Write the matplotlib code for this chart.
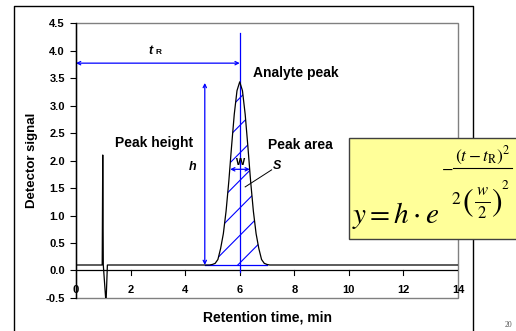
import matplotlib
matplotlib.use('Agg')
import matplotlib.pyplot as plt
from matplotlib.lines import Line2D
from matplotlib.patches import Rectangle

plt.rcParams['font.family'] = ['Liberation Sans', 'DejaVu Sans']
plt.rcParams['mathtext.fontset'] = 'stix'

# chromatogram (retention time in min, detector signal)
signal_t = [0.0, 0.96, 0.98, 1.00, 1.10, 1.15,
            4.8, 4.9, 5.0, 5.1, 5.2, 5.3, 5.4, 5.5, 5.6, 5.7, 5.8, 5.9, 6.0,
            6.1, 6.2, 6.3, 6.4, 6.5, 6.6, 6.7, 6.8, 6.9, 7.0, 7.1, 7.2, 14.0]
signal_y = [0.10, 0.10, 2.10, 0.10, -0.60, 0.10,
            0.10, 0.10, 0.11, 0.13, 0.20, 0.40, 0.67, 1.08, 1.62, 2.25, 2.84, 3.27, 3.43,
            3.27, 2.84, 2.25, 1.62, 1.08, 0.67, 0.40, 0.20, 0.13, 0.11, 0.10, 0.10, 0.10]
peak_start, peak_end = 6, 31   # slice of the analyte peak

t_r = 6.0
baseline = 0.1
peak_top = 3.43
h_pos = 4.72
w_left, w_right, w_level = 5.65, 6.37, 1.84
tr_level = 3.77

x_ticks = [0, 2, 4, 6, 8, 10, 12, 14]
y_ticks = [-0.5, 0.0, 0.5, 1.0, 1.5, 2.0, 2.5, 3.0, 3.5, 4.0, 4.5]

blue = '#0000ff'
grey = '#808080'

fig = plt.figure(figsize=(5.16, 3.31), dpi=100)
ax = fig.add_axes([0.1473, 0.0997, 0.7403, 0.8308])
ax.set_xlim(0, 14)
ax.set_ylim(-0.5, 4.5)

# frame: black left spine, grey box, black x axis at zero
for s in ['top', 'right', 'bottom']:
    ax.spines[s].set_visible(False)
ax.spines['left'].set_linewidth(1.0)
ax.add_patch(Rectangle((0, 0), 1, 1, transform=ax.transAxes, fill=False,
                       edgecolor=grey, lw=1.0, zorder=0.5, clip_on=False))
ax.spines['left'].set_zorder(3)
ax.axhline(0, color='black', lw=0.9, zorder=2)

ax.set_xticks(x_ticks)
ax.set_yticks(y_ticks)
ax.set_yticklabels(['%.1f' % v for v in y_ticks])
ax.tick_params(axis='y', direction='out', length=4, width=0.8, labelsize=8, pad=4)
ax.tick_params(axis='x', direction='out', length=0, labelsize=8, pad=-9)
for v in x_ticks[1:-1]:
    ax.plot([v, v], [0, -0.08], color='black', lw=0.8, zorder=2, clip_on=False)
for lab in ax.get_xticklabels() + ax.get_yticklabels():
    lab.set_fontweight('bold')

ax.set_xlabel('Retention time, min', fontsize=10, fontweight='bold')
ax.xaxis.set_label_coords(0.5, -0.045)
ax.set_ylabel('Detector signal', fontsize=9.5, fontweight='bold')
ax.yaxis.set_label_coords(-0.1, 0.5)

# signal trace
ax.plot(signal_t, signal_y, color='black', lw=0.9, zorder=4)

# hatched peak area
pk_t = signal_t[peak_start:peak_end + 1]
pk_y = signal_y[peak_start:peak_end + 1]
poly = ax.fill_between(pk_t, baseline, pk_y, facecolor='none', edgecolor='none')
clip = poly.get_paths()[0]
for k in range(8):
    c = 0.135 + 0.5 * k
    ln, = ax.plot([4.0, 8.0], [c - 1.0, c + 1.0], color=blue, lw=0.8, zorder=3)
    ln.set_clip_path(clip, transform=ax.transData)

# blue construction lines
ax.plot([t_r, t_r], [-0.03, 4.32], color=blue, lw=0.9, zorder=3)
ax.plot([h_pos, 7.0], [baseline, baseline], color=blue, lw=0.9, zorder=3)
arr = dict(arrowstyle='<->', color=blue, lw=0.9, mutation_scale=6, shrinkA=0, shrinkB=0)
ax.annotate('', xy=(0, tr_level), xytext=(t_r, tr_level), arrowprops=arr, zorder=3)
ax.annotate('', xy=(h_pos, baseline), xytext=(h_pos, peak_top - 0.02), arrowprops=arr, zorder=3)
ax.annotate('', xy=(w_left, w_level), xytext=(w_right, w_level), arrowprops=arr, zorder=3)

# labels
ax.text(2.66, 4.0, 't', fontsize=9, fontweight='bold', style='italic', ha='left', va='center')
ax.text(2.92, 3.96, 'R', fontsize=6, fontweight='bold', ha='left', va='center')
ax.text(6.48, 3.6, 'Analyte peak', fontsize=10, fontweight='bold', ha='left', va='center')
ax.text(1.42, 2.32, 'Peak height', fontsize=10, fontweight='bold', ha='left', va='center')
ax.text(4.15, 1.88, 'h', fontsize=9, fontweight='bold', style='italic', ha='left', va='center')
ax.text(7.02, 2.28, 'Peak area', fontsize=10, fontweight='bold', ha='left', va='center')
ax.text(7.22, 1.9, 'S', fontsize=9, fontweight='bold', style='italic', ha='left', va='center')
ax.text(6.0, 1.98, 'w', fontsize=8.5, fontweight='bold', ha='center', va='center')
ax.plot([7.17, 6.2], [1.83, 1.52], color='black', lw=0.7, zorder=4)

# outer slide frame
fig.add_artist(Line2D([0.0271, 0.0271, 0.9167, 0.9167], [0.0, 0.982, 0.982, 0.0],
                      transform=fig.transFigure, color='black', lw=1.0))

# formula box
fig.add_artist(Rectangle((0.676, 0.278), 0.34, 0.305, transform=fig.transFigure,
                         facecolor='#ffff99', edgecolor='#404040', lw=1.0, zorder=10))
fig.text(0.682, 0.325, r'$y = h\cdot e$', fontsize=21, ha='left', va='baseline', zorder=11)
# exponent, built from pieces so the nested fraction keeps its size
kw = dict(ha='center', va='center', zorder=11)
fig.text(0.866, 0.492, r'$-$', fontsize=12, **kw)
fig.text(0.936, 0.529, r'$(t-t_{\mathrm{R}})^2$', fontsize=12.5, **kw)
fig.add_artist(Line2D([0.878, 0.992], [0.492, 0.492], transform=fig.transFigure,
                      color='black', lw=0.8, zorder=11))
fig.text(0.884, 0.399, r'$2$', fontsize=12.5, **kw)
fig.text(0.907, 0.386, r'$($', fontsize=23, **kw)
fig.text(0.935, 0.425, r'$w$', fontsize=12, **kw)
fig.add_artist(Line2D([0.921, 0.949], [0.389, 0.389], transform=fig.transFigure,
                      color='black', lw=0.7, zorder=11))
fig.text(0.935, 0.355, r'$2$', fontsize=12, **kw)
fig.text(0.962, 0.386, r'$)$', fontsize=23, **kw)
fig.text(0.979, 0.44, r'$2$', fontsize=9.5, **kw)

fig.text(0.977, 0.012, '20', fontsize=5.5, family='Liberation Serif', color='#555555')

fig.savefig('out.png', dpi=100)
